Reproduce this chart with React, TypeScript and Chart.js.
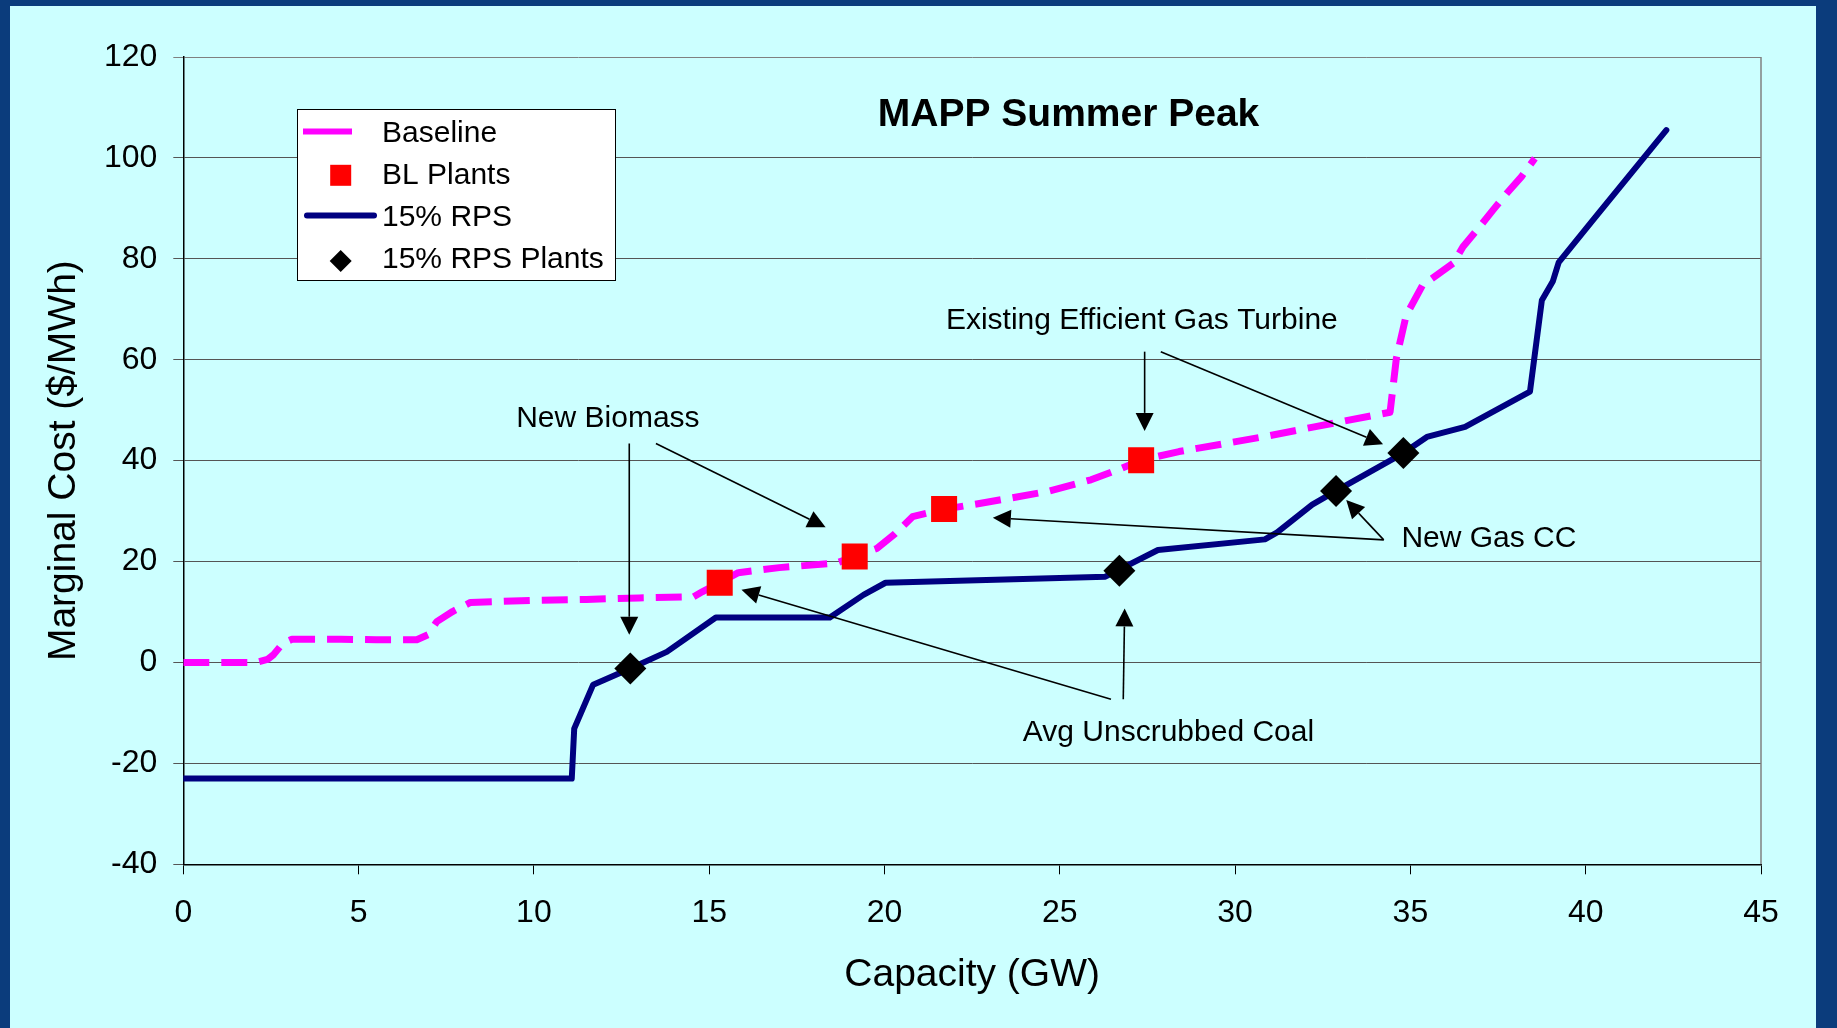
import React, { useEffect, useRef } from 'react';
import { Chart, registerables } from 'chart.js';

Chart.register(...registerables);

// Supply curves: capacity (GW) vs marginal cost ($/MWh)
const baselineCapacity = [
  0, 1.0, 2.07, 2.4, 2.58, 2.84, 3.1, 4.5, 5.5, 6.66, 6.98, 7.23, 7.68, 8.19, 10.0, 11.5, 13.0,
  14.55, 14.8, 15.29, 15.83, 17.0, 18.63, 19.14, 19.78, 20.3, 20.8, 21.71, 22.71, 24.62, 25.89,
  26.66, 27.32, 28.4, 30.83, 32.26, 34.42, 34.6, 34.88, 35.35, 36.22, 36.5, 36.98, 37.36, 37.75,
  38.17, 38.55,
];
const baselineCost = [
  0, 0, 0, 0.6, 1.6, 3.8, 4.6, 4.6, 4.5, 4.5, 5.5, 8.1, 10.1, 11.9, 12.3, 12.5, 12.8,
  13.0, 14.0, 15.8, 17.8, 18.8, 19.7, 21.0, 22.6, 25.5, 28.9, 30.4, 31.5, 33.85, 36.2,
  38.2, 40.1, 41.8, 44.75, 46.7, 49.6, 60.3, 68.8, 74.8, 79.1, 82.4, 86.4, 89.7, 93.0,
  96.3, 99.9,
];

const rpsCapacity = [
  0, 11.08, 11.15, 11.69, 12.75, 13.79, 15.19, 18.44, 19.4, 20.03, 26.3, 27.8, 30.85, 31.2,
  32.2, 32.88, 34.8, 35.47, 36.56, 38.41, 38.75, 39.06, 39.23, 40.2, 42.3,
];
const rpsCost = [
  -23, -23, -13.1, -4.4, -1.2, 2.1, 8.9, 8.9, 13.4, 15.8, 17.0, 22.3, 24.4, 25.8,
  31.3, 34.0, 41.5, 44.7, 46.7, 53.7, 71.8, 75.5, 79.3, 87.6, 105.5,
];

// Individual plants highlighted on each curve
const blPlantCapacity = [15.3, 19.15, 21.7, 27.32];
const blPlantCost = [15.8, 21.0, 30.4, 40.1];
const rpsPlantCapacity = [12.75, 26.7, 32.88, 34.8];
const rpsPlantCost = [-1.2, 18.2, 34.0, 41.5];

// Axis ranges
const xRange = { min: 0, max: 45, step: 5 };
const yRange = { min: -40, max: 120, step: 20 };

// Callout texts and arrows, in data units
const calloutLabels = [
  { text: 'New Biomass', x: 12.11, y: 46.73 },
  { text: 'Existing Efficient Gas Turbine', x: 27.34, y: 66.0 },
  { text: 'New Gas CC', x: 37.24, y: 22.96 },
  { text: 'Avg Unscrubbed Coal', x: 28.1, y: -15.5 },
];
const calloutArrows = [
  { from: [12.72, 43.4], to: [12.72, 5.5] },
  { from: [13.48, 43.4], to: [18.32, 26.8] },
  { from: [27.42, 61.6], to: [27.42, 45.9] },
  { from: [27.88, 61.6], to: [34.22, 43.25] },
  { from: [34.24, 24.3], to: [33.17, 32.2] },
  { from: [34.24, 24.3], to: [23.09, 28.7] },
  { from: [26.81, -7.3], to: [26.85, 10.7] },
  { from: [26.46, -7.3], to: [15.92, 14.4] },
];

const chartTitle = { text: 'MAPP Summer Peak', x: 25.25, y: 106.4 };

const FONT = '"Liberation Sans", Arial, Helvetica, sans-serif';
const MAGENTA = '#FF00FF';
const NAVY = '#000080';

const toPoints = (xs: number[], ys: number[]) => xs.map((x, i) => ({ x, y: ys[i] }));

function drawArrow(ctx: CanvasRenderingContext2D, x1: number, y1: number, x2: number, y2: number) {
  const ang = Math.atan2(y2 - y1, x2 - x1);
  const len = 18;
  const half = 9;
  const bx = x2 - len * Math.cos(ang);
  const by = y2 - len * Math.sin(ang);
  ctx.beginPath();
  ctx.moveTo(x1, y1);
  ctx.lineTo(bx, by);
  ctx.stroke();
  ctx.beginPath();
  ctx.moveTo(x2, y2);
  ctx.lineTo(bx + half * Math.sin(ang), by - half * Math.cos(ang));
  ctx.lineTo(bx - half * Math.sin(ang), by + half * Math.cos(ang));
  ctx.closePath();
  ctx.fill();
}

const overlayPlugin = {
  id: 'overlay',
  afterDatasetsDraw(chart: any) {
    const { ctx, chartArea, scales } = chart;
    const x = scales.x;
    const y = scales.y;
    ctx.save();

    // right edge of the plot frame
    ctx.strokeStyle = '#808080';
    ctx.lineWidth = 1.5;
    ctx.beginPath();
    ctx.moveTo(chartArea.right, chartArea.top);
    ctx.lineTo(chartArea.right, chartArea.bottom);
    ctx.stroke();

    // title
    ctx.fillStyle = '#000';
    ctx.font = `bold 39px ${FONT}`;
    ctx.textAlign = 'center';
    ctx.textBaseline = 'alphabetic';
    ctx.fillText(chartTitle.text, x.getPixelForValue(chartTitle.x), y.getPixelForValue(chartTitle.y));

    // callout arrows
    ctx.strokeStyle = '#000';
    ctx.fillStyle = '#000';
    ctx.lineWidth = 1.6;
    calloutArrows.forEach((a) => {
      drawArrow(
        ctx,
        x.getPixelForValue(a.from[0]),
        y.getPixelForValue(a.from[1]),
        x.getPixelForValue(a.to[0]),
        y.getPixelForValue(a.to[1])
      );
    });

    // callout texts
    ctx.font = `30px ${FONT}`;
    ctx.textAlign = 'center';
    calloutLabels.forEach((l) => {
      ctx.fillText(l.text, x.getPixelForValue(l.x), y.getPixelForValue(l.y));
    });

    // legend box
    const lx = 287;
    const ly = 103;
    const lw = 318;
    const lh = 171;
    ctx.fillStyle = '#FFFFFF';
    ctx.fillRect(lx, ly, lw, lh);
    ctx.strokeStyle = '#000';
    ctx.lineWidth = 1;
    ctx.strokeRect(lx + 0.5, ly + 0.5, lw, lh);

    // legend symbols
    ctx.lineCap = 'butt';
    ctx.strokeStyle = MAGENTA;
    ctx.lineWidth = 6;
    ctx.beginPath();
    ctx.moveTo(293, 125.5);
    ctx.lineTo(342, 125.5);
    ctx.stroke();

    ctx.fillStyle = '#FF0000';
    ctx.fillRect(330.7 - 10.5, 169.3 - 10.5, 21, 21);

    ctx.lineCap = 'round';
    ctx.strokeStyle = NAVY;
    ctx.lineWidth = 6;
    ctx.beginPath();
    ctx.moveTo(297, 209.5);
    ctx.lineTo(364, 209.5);
    ctx.stroke();

    ctx.fillStyle = '#000';
    ctx.beginPath();
    ctx.moveTo(330.7, 255 - 11);
    ctx.lineTo(330.7 + 11, 255);
    ctx.lineTo(330.7, 255 + 11);
    ctx.lineTo(330.7 - 11, 255);
    ctx.closePath();
    ctx.fill();

    // legend texts
    ctx.font = `30px ${FONT}`;
    ctx.textAlign = 'left';
    ctx.textBaseline = 'alphabetic';
    ctx.fillStyle = '#000';
    const names = ['Baseline', 'BL Plants', '15% RPS', '15% RPS Plants'];
    names.forEach((n, i) => ctx.fillText(n, 372, 135.7 + i * 42.2));

    ctx.restore();
  },
};

export default function App() {
  const canvasRef = useRef<HTMLCanvasElement>(null);

  useEffect(() => {
    if (!canvasRef.current) return;
    Chart.defaults.font.family = FONT;
    Chart.defaults.color = '#000';

    const chart = new Chart(canvasRef.current, {
      type: 'line',
      data: {
        datasets: [
          {
            label: 'BL Plants',
            data: toPoints(blPlantCapacity, blPlantCost),
            showLine: false,
            pointStyle: 'rect',
            pointRadius: 18.4,
            pointBackgroundColor: '#FF0000',
            pointBorderColor: '#FF0000',
            pointBorderWidth: 0,
            borderColor: '#FF0000',
            backgroundColor: '#FF0000',
          },
          {
            label: '15% RPS Plants',
            data: toPoints(rpsPlantCapacity, rpsPlantCost),
            showLine: false,
            pointStyle: 'rectRot',
            pointRadius: 16,
            pointBackgroundColor: '#000',
            pointBorderColor: '#000',
            pointBorderWidth: 0,
            borderColor: '#000',
            backgroundColor: '#000',
          },
          {
            label: 'Baseline',
            data: toPoints(baselineCapacity, baselineCost),
            borderColor: MAGENTA,
            backgroundColor: MAGENTA,
            borderWidth: 7,
            borderDash: [26, 12],
            borderCapStyle: 'butt',
            borderJoinStyle: 'round',
            pointRadius: 0,
            tension: 0,
            fill: false,
          },
          {
            label: '15% RPS',
            data: toPoints(rpsCapacity, rpsCost),
            borderColor: NAVY,
            backgroundColor: NAVY,
            borderWidth: 6,
            borderCapStyle: 'round',
            borderJoinStyle: 'round',
            pointRadius: 0,
            tension: 0,
            fill: false,
          },
        ],
      },
      options: {
        animation: false,
        responsive: false,
        devicePixelRatio: 1,
        layout: { padding: { left: 0, top: 51, right: 55, bottom: 0 } },
        plugins: {
          legend: { display: false },
          title: { display: false },
          tooltip: { enabled: false },
        },
        scales: {
          x: {
            type: 'linear',
            min: xRange.min,
            max: xRange.max,
            ticks: {
              stepSize: xRange.step,
              color: '#000',
              font: { size: 32, family: FONT },
              padding: 20,
              maxRotation: 0,
            },
            grid: {
              drawOnChartArea: false,
              drawTicks: true,
              tickLength: 10,
              color: '#000',
              lineWidth: 1,
            },
            border: { color: '#000', width: 1.5 },
            title: {
              display: true,
              text: 'Capacity (GW)',
              color: '#000',
              font: { size: 39, family: FONT },
              padding: { top: 0, bottom: 29 },
            },
            afterFit: (s: any) => {
              s.height = 163.7;
            },
          },
          y: {
            type: 'linear',
            min: yRange.min,
            max: yRange.max,
            ticks: {
              stepSize: yRange.step,
              color: '#000',
              font: { size: 32, family: FONT },
              padding: 16,
            },
            grid: {
              drawTicks: true,
              tickLength: 10,
              color: (c: any) => (c.tick && c.tick.value === yRange.max ? '#808080' : '#555555'),
              lineWidth: 1,
            },
            border: { color: '#000', width: 1.5 },
            title: {
              display: true,
              text: 'Marginal Cost ($/MWh)',
              color: '#000',
              font: { size: 39, family: FONT },
              padding: { top: 31, bottom: 0 },
            },
            afterFit: (s: any) => {
              s.width = 173.3;
            },
          },
        },
      },
      plugins: [overlayPlugin],
    } as any);

    return () => chart.destroy();
  }, []);

  return (
    <div
      style={{
        position: 'fixed',
        left: 0,
        top: 0,
        width: 1837,
        height: 1028,
        background: '#0B3C7C',
        overflow: 'hidden',
      }}
    >
      <div
        style={{
          position: 'absolute',
          left: 10,
          top: 6,
          width: 1806,
          height: 1022,
          background: '#CCFFFF',
        }}
      >
        <canvas
          ref={canvasRef}
          width={1806}
          height={1022}
          style={{ display: 'block', width: 1806, height: 1022 }}
        />
      </div>
    </div>
  );
}
